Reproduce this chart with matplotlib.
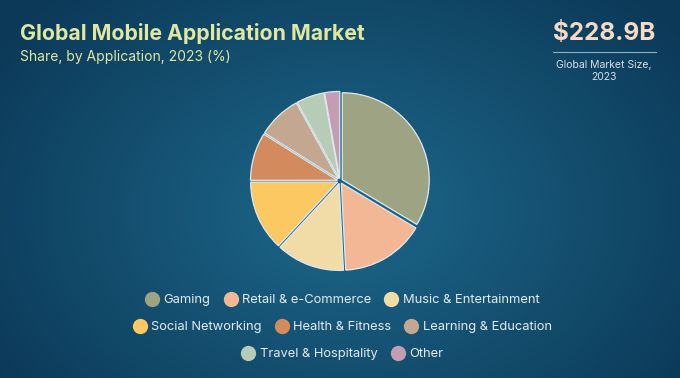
import matplotlib
matplotlib.use("Agg")
import matplotlib.pyplot as plt
from matplotlib.lines import Line2D
import numpy as np

plt.rcParams['font.family'] = ['Inter', 'DejaVu Sans']

categories = ["Gaming", "Retail & e-Commerce", "Music & Entertainment",
              "Social Networking", "Health & Fitness", "Learning & Education",
              "Travel & Hospitality", "Other"]
shares = [33.6, 15.6, 12.7, 13.1, 8.9, 8.1, 5.2, 2.8]
colors = ["#9ea383", "#f4b795", "#f1dca8", "#fcc862", "#d38b5d",
          "#c4a790", "#b6ccb6", "#c49db4"]
market_size = "$228.9B"

W, H = 680, 378
fig = plt.figure(figsize=(W / 100, H / 100), dpi=100)

# radial background gradient
bg = fig.add_axes([0, 0, 1, 1], zorder=0)
yy, xx = np.mgrid[0:H, 0:W]
d = np.sqrt(((xx - 345) / 420.0) ** 2 + ((yy - 210) / 300.0) ** 2)
d = np.clip(d, 0, 1)
inner = np.array([0x1d, 0x68, 0x8b]) / 255
outer = np.array([0x0c, 0x39, 0x58]) / 255
img = inner[None, None, :] * (1 - d[..., None]) + outer[None, None, :] * d[..., None]
bg.imshow(img, aspect='auto', extent=[0, 1, 0, 1])
bg.axis('off')

# pie
pw = 200
ax = fig.add_axes([(340 - pw / 2) / W, 1 - (181 + pw / 2) / H, pw / W, pw / H], zorder=2)
ax.pie(shares, colors=colors, startangle=90, counterclock=False,
       explode=[0.03] * len(shares),
       wedgeprops=dict(edgecolor="#dfe9ee", linewidth=0.9))
ax.set_xlim(-1.15, 1.15)
ax.set_ylim(-1.15, 1.15)
ax.set_aspect('equal')
ax.axis('off')

# titles
fig.text(20 / W, 1 - 33 / H, "Global Mobile Application Market", fontsize=15.3,
         fontweight='bold', color="#dfe7a1", ha='left', va='center', zorder=3)
fig.text(20 / W, 1 - 57 / H, "Share, by Application, 2023 (%)", fontsize=10,
         color="#dfe7a1", ha='left', va='center', zorder=3)

# market size box
fig.text(604 / W, 1 - 33 / H, market_size, fontsize=17.5, fontweight='bold',
         color="#f6dac3", ha='center', va='center', zorder=3)
fig.add_artist(Line2D([553 / W, 656 / W], [1 - 52 / H, 1 - 52 / H],
                      color="#8fb0c4", linewidth=0.8, zorder=3))
fig.text(604 / W, 1 - 71 / H, "Global Market Size,\n2023", fontsize=7.5,
         color="#d6dfe6", ha='center', va='center', linespacing=1.2, zorder=3)

# legend rows
rows = [[0, 1, 2], [3, 4, 5], [6, 7]]
row_y = [300, 327, 354]
for idx, y in zip(rows, row_y):
    handles = [Line2D([], [], marker='o', linestyle='', markersize=11,
                      markerfacecolor=colors[i], markeredgecolor='none')
               for i in idx]
    leg = fig.legend(handles, [categories[i] for i in idx], loc='center',
                     bbox_to_anchor=(341 / W, 1 - y / H), ncol=len(idx),
                     frameon=False, fontsize=9.3, handletextpad=0.15,
                     columnspacing=0.8, handlelength=1.5)
    for t in leg.get_texts():
        t.set_color("#e3eaef")
    leg.set_zorder(3)

fig.savefig("out.png", dpi=100)
